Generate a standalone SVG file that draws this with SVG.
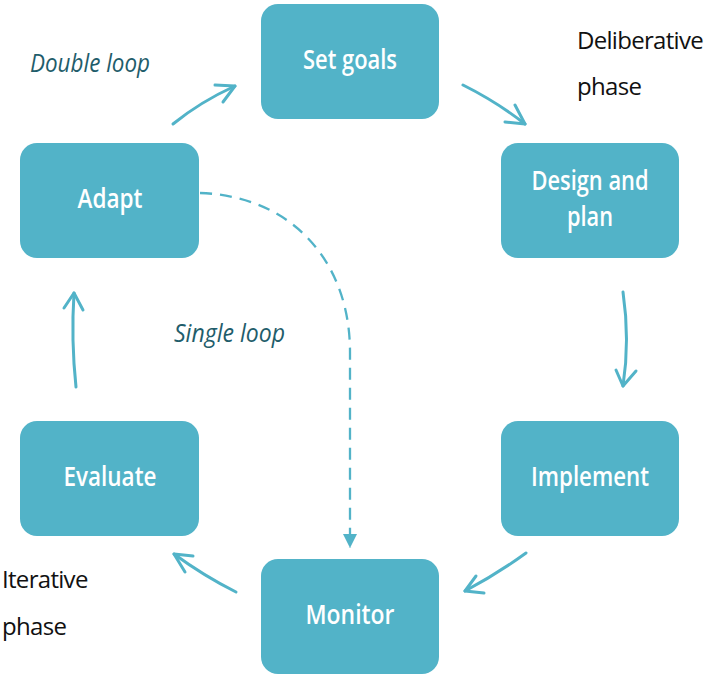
<svg xmlns="http://www.w3.org/2000/svg" width="709" height="675" viewBox="0 0 709 675">
  <defs>
    <marker id="tri" viewBox="0 0 10 10" refX="10" refY="5" markerWidth="6.4" markerHeight="6.2" orient="auto" markerUnits="strokeWidth">
      <path d="M0,0 L10,5 L0,10 Z" fill="#52b3c8"/>
    </marker>
  </defs>
  <style>
    .box { fill: #52b3c8; }
    .lbl { fill: #ffffff; font-family: "Open Sans", "Noto Sans", sans-serif; font-weight: 600; font-size: 27px; text-anchor: middle; }
    .loop { fill: #1f5d6b; font-family: "Open Sans", "Noto Sans", sans-serif; font-style: italic; font-weight: 400; font-size: 25px; }
    .phase { fill: #111111; font-family: "Open Sans", "Noto Sans", sans-serif; font-weight: 400; font-size: 24px; letter-spacing: -0.7px; }
    .arc { fill: none; stroke: #52b3c8; stroke-width: 3; stroke-linecap: round; stroke-linejoin: round; }
    .dash { fill: none; stroke: #52b3c8; stroke-width: 2.3; stroke-dasharray: 12 8; }
  </style>

  <g id="connectors">
    <!-- Adapt to Set goals -->
    <path class="arc" d="M173,124 Q200,102 235,86"/>
    <path class="arc" d="M215,85 L235,86 L223,102"/>
    <!-- Set goals to Design and plan -->
    <path class="arc" d="M463,85 Q497,102 525,124"/>
    <path class="arc" d="M505,122 L525,124 L515,105"/>
    <!-- Design and plan to Implement -->
    <path class="arc" d="M623,292 Q630,340 623,386"/>
    <path class="arc" d="M616,370 L623,386 L636,371"/>
    <!-- Implement to Monitor -->
    <path class="arc" d="M526,553 Q497,574 465,591"/>
    <path class="arc" d="M476,576 L465,591 L484,593"/>
    <!-- Monitor to Evaluate -->
    <path class="arc" d="M236,592 Q204,576 174,554"/>
    <path class="arc" d="M185,572 L174,554 L193,556"/>
    <!-- Evaluate to Adapt -->
    <path class="arc" d="M76,387 Q71,340 74,293"/>
    <path class="arc" d="M64,308 L74,293 L83,310"/>
    <!-- Adapt to Monitor (single loop) -->
    <path class="dash" d="M200,193 C292,196 350,262 350,352 L350,548" marker-end="url(#tri)"/>
  </g>

  <g id="set-goals">
    <rect class="box" x="261" y="4" width="178" height="115" rx="17"/>
    <text class="lbl" x="350" y="69" textLength="94" lengthAdjust="spacingAndGlyphs">Set goals</text>
  </g>
  <g id="design-and-plan">
    <rect class="box" x="501" y="143" width="178" height="115" rx="17"/>
    <text class="lbl" x="590" y="190" textLength="117" lengthAdjust="spacingAndGlyphs">Design and</text>
    <text class="lbl" x="590" y="226" textLength="46" lengthAdjust="spacingAndGlyphs">plan</text>
  </g>
  <g id="implement">
    <rect class="box" x="501" y="421" width="178" height="115" rx="17"/>
    <text class="lbl" x="590" y="486" textLength="118" lengthAdjust="spacingAndGlyphs">Implement</text>
  </g>
  <g id="monitor">
    <rect class="box" x="261" y="559" width="178" height="115" rx="17"/>
    <text class="lbl" x="350" y="624" textLength="89" lengthAdjust="spacingAndGlyphs">Monitor</text>
  </g>
  <g id="evaluate">
    <rect class="box" x="20" y="421" width="179" height="115" rx="17"/>
    <text class="lbl" x="110" y="486" textLength="93" lengthAdjust="spacingAndGlyphs">Evaluate</text>
  </g>
  <g id="adapt">
    <rect class="box" x="20" y="143" width="179" height="115" rx="17"/>
    <text class="lbl" x="110" y="208" textLength="65" lengthAdjust="spacingAndGlyphs">Adapt</text>
  </g>

  <g id="labels">
    <text class="loop" x="30" y="72" textLength="120" lengthAdjust="spacingAndGlyphs">Double loop</text>
    <text class="loop" x="174" y="342" textLength="111" lengthAdjust="spacingAndGlyphs">Single loop</text>
    <text class="phase" x="577" y="49">Deliberative</text>
    <text class="phase" x="577" y="95">phase</text>
    <text class="phase" x="2" y="588">Iterative</text>
    <text class="phase" x="2" y="635">phase</text>
  </g>
</svg>
